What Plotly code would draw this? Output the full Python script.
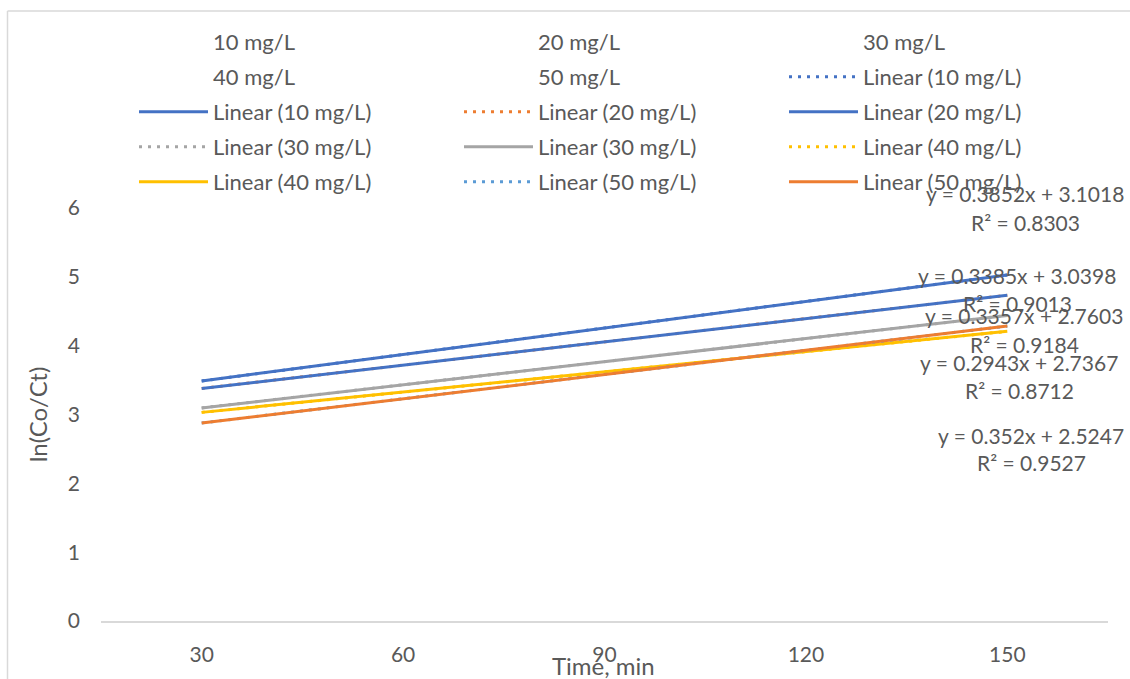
import plotly.graph_objects as go

# ---- data ----
times = ["30", "60", "90", "120", "150"]
series_names = ["10 mg/L", "20 mg/L", "30 mg/L", "40 mg/L", "50 mg/L"]
slopes = [0.3852, 0.3385, 0.3357, 0.2943, 0.352]
intercepts = [3.1018, 3.0398, 2.7603, 2.7367, 2.5247]
r_squared = [0.8303, 0.9013, 0.9184, 0.8712, 0.9527]
dotted_colors = ["#4472C4", "#ED7D31", "#A5A5A5", "#FFC000", "#5B9BD5"]
solid_colors = ["#4472C4", "#4472C4", "#A5A5A5", "#FFC000", "#ED7D31"]

W, H = 1130, 679
L, R, T, B = 101, 22, 208, 58
FONT = "Lato"
GREY = "#595959"

def px_x(p):  # page pixel -> paper fraction
    return (p - L) / (W - L - R)

def px_y(p):
    return (H - B - p) / (H - T - B)

# legend assignment: row-major order across 5 rows of 3
entries = []
for n in series_names:
    entries.append(("data", n))
for i, n in enumerate(series_names):
    entries.append(("dot", i))
    entries.append(("solid", i))
legend_ids = ["legend", "legend2", "legend3", "legend4", "legend5"]

fig = go.Figure()
idx_positions = list(range(1, len(times) + 1))
for k, (kind, v) in enumerate(entries):
    lg = legend_ids[k // 3]
    if kind == "data":
        fig.add_trace(go.Scatter(x=[None], y=[None], name=v, mode="lines",
                                 line=dict(width=0, color="rgba(0,0,0,0)"),
                                 legend=lg, showlegend=True))
    else:
        i = v
        ys = [slopes[i] * t + intercepts[i] for t in idx_positions]
        dash = "3px,6px" if kind == "dot" else "solid"
        col = dotted_colors[i] if kind == "dot" else solid_colors[i]
        fig.add_trace(go.Scatter(x=times, y=ys, mode="lines",
                                 name=f"Linear ({series_names[i]})",
                                 line=dict(color=col, width=3, dash=dash),
                                 legend=lg, hoverinfo="skip"))

row_y = [42, 77, 112, 147, 182]  # page pixels
legend_layout = {}
for j, lg in enumerate(legend_ids):
    legend_layout[lg] = dict(
        orientation="h", xref="container", yref="container",
        x=134 / W, y=1 - row_y[j] / H, xanchor="left", yanchor="middle",
        entrywidth=241, entrywidthmode="pixels", itemwidth=69,
        font=dict(family=FONT, size=22, color=GREY),
        bgcolor="rgba(0,0,0,0)", traceorder="normal",
    )

# equation labels (center x, y of equation line, y of R² line) in page pixels
eq_pos = [(1025, 193, 222), (1017, 275, 303), (1024, 315, 344), (1019, 362, 390), (1031, 435, 462)]
annotations = []
for i in range(5):
    cx, y1, y2 = eq_pos[i]
    eq = f"y = {slopes[i]:g}x + {intercepts[i]:g}"
    annotations.append(dict(text=eq, x=px_x(cx), y=px_y(y1), xref="paper", yref="paper",
                            showarrow=False, xanchor="center", yanchor="middle",
                            font=dict(family=FONT, size=21, color=GREY)))
    annotations.append(dict(text=f"R² = {r_squared[i]:.4f}", x=px_x(cx), y=px_y(y2),
                            xref="paper", yref="paper", showarrow=False,
                            xanchor="center", yanchor="middle",
                            font=dict(family=FONT, size=21, color=GREY)))
annotations.append(dict(text="Time, min", x=px_x(603), y=px_y(665), xref="paper", yref="paper",
                        showarrow=False, xanchor="center", yanchor="middle",
                        font=dict(family=FONT, size=24, color=GREY)))

border = dict(color="#D9D9D9", width=1.5)
fig.update_layout(
    width=W, height=H,
    margin=dict(l=L, r=R, t=T, b=B, autoexpand=False),
    paper_bgcolor="white", plot_bgcolor="white",
    showlegend=True,
    annotations=annotations,
    shapes=[
        dict(type="line", xref="paper", yref="paper", x0=px_x(7.5), x1=px_x(7.5),
             y0=px_y(11), y1=px_y(H + 5), line=border, layer="below"),
        dict(type="line", xref="paper", yref="paper", x0=px_x(7.5), x1=px_x(W + 5),
             y0=px_y(11), y1=px_y(11), line=border, layer="below"),
    ],
    xaxis=dict(type="category", range=[-0.5, len(times) - 0.5], showgrid=False, zeroline=False,
               showline=True, linecolor="#D9D9D9", linewidth=1.5, ticks="", ticklabelstandoff=14,
               tickfont=dict(family=FONT, size=21, color=GREY)),
    yaxis=dict(range=[0, 6], dtick=1, showgrid=False, zeroline=False, showline=False,
               ticks="", ticklabelstandoff=20,
               tickfont=dict(family=FONT, size=21, color=GREY),
               title=dict(text="ln(Co/Ct)", standoff=13,
                          font=dict(family=FONT, size=24, color=GREY))),
    **legend_layout,
)

fig.write_html("out.html", config={"displayModeBar": False},
               post_script="document.body.style.margin='0';document.body.style.overflow='hidden';")
